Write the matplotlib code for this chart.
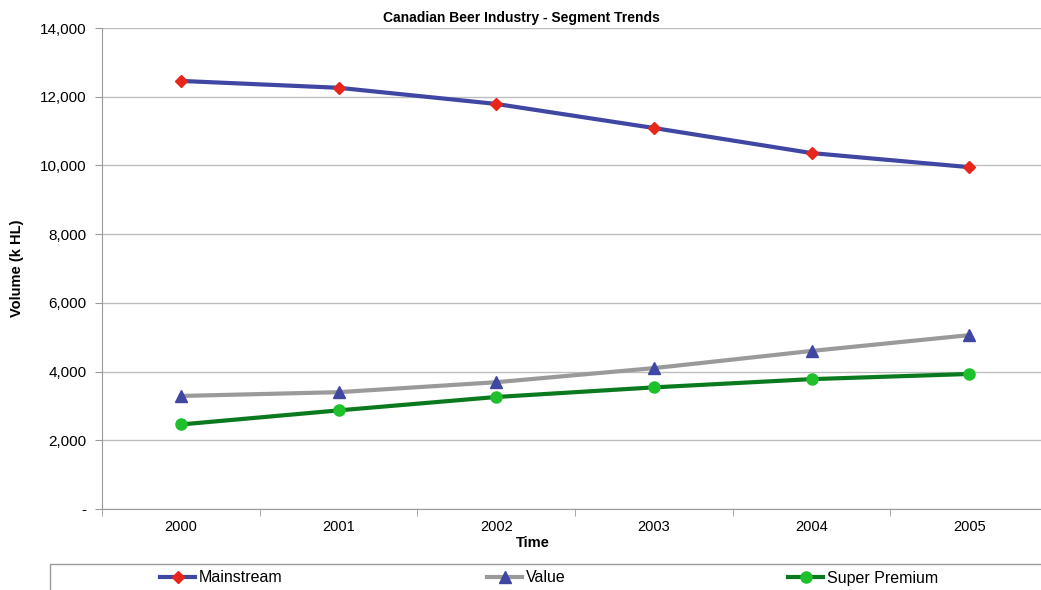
import matplotlib
matplotlib.use("Agg")
import matplotlib.pyplot as plt
from matplotlib.patches import Rectangle
from matplotlib.ticker import FuncFormatter, FixedLocator

years = ["2000", "2001", "2002", "2003", "2004", "2005"]
mainstream = [12460, 12260, 11790, 11090, 10360, 9950]
value = [3290, 3400, 3690, 4100, 4600, 5060]
super_premium = [2460, 2870, 3260, 3540, 3780, 3930]
yticks = [0, 2000, 4000, 6000, 8000, 10000, 12000, 14000]

plt.rcParams['font.family'] = ['Liberation Sans', 'DejaVu Sans']

W, H = 1041, 590
fig = plt.figure(figsize=(W / 100, H / 100), dpi=100)
x0, x1 = 102, 1048
y0, y1 = 509, 28
ax = fig.add_axes([x0 / W, 1 - y0 / H, (x1 - x0) / W, (y0 - y1) / H])

xs = list(range(len(years)))
l1, = ax.plot(xs, mainstream, color="#3F47A3", lw=3, marker="D", ms=6,
              mfc="#E8261B", mec="#E8261B", zorder=3)
l2, = ax.plot(xs, value, color="#9A9A9A", lw=3, marker="^", ms=9,
              mfc="#3F47A3", mec="#3F47A3", zorder=3)
l3, = ax.plot(xs, super_premium, color="#0B7A1F", lw=3, marker="o", ms=8,
              mfc="#1EC12C", mec="#1EC12C", zorder=4)

ax.set_xlim(-0.5, len(years) - 0.5)
ax.set_ylim(0, 14000)
ax.set_xticks(xs)
ax.set_xticklabels(years, fontsize=10.5)
ax.xaxis.set_minor_locator(FixedLocator([i - 0.5 for i in range(len(years) + 1)]))
ax.tick_params(axis="x", which="major", length=0, pad=8)
ax.tick_params(axis="x", which="minor", length=5, color="#9A9A9A", direction="out")
ax.set_yticks(yticks)
ax.yaxis.set_major_formatter(FuncFormatter(lambda v, p: "-" if v == 0 else f"{int(v):,}"))
ax.tick_params(axis="y", length=5, color="#9A9A9A", labelsize=11, pad=6)
ax.grid(axis="y", color="#BDBDBD", lw=1)
ax.set_axisbelow(True)
for s in ["top", "right"]:
    ax.spines[s].set_visible(False)
for s in ["left", "bottom"]:
    ax.spines[s].set_color("#9A9A9A")

ax.set_xlabel("Time", fontsize=10.5, fontweight="bold")
ax.xaxis.set_label_coords((533 - x0) / (x1 - x0), -(543 - y0) / (y0 - y1))
ax.set_ylabel("Volume (k HL)", fontsize=10.5, fontweight="bold")
ax.yaxis.set_label_coords((17 - x0) / (x1 - x0), (y0 - 268) / (y0 - y1))
ax.yaxis.label.set_va("center")
ax.xaxis.label.set_va("center")
fig.text(521 / W, 1 - 18 / H, "Canadian Beer Industry - Segment Trends",
         ha="center", va="center", fontsize=10, fontweight="bold")

# legend box
fig.patches.append(Rectangle((50 / W, -0.05), 1.0, (1 - 564 / H) + 0.05,
                             transform=fig.transFigure, fill=False,
                             ec="#9A9A9A", lw=1))
entries = [(l1, "Mainstream", 160), (l2, "Value", 487), (l3, "Super Premium", 788)]
for h, lab, px in entries:
    fig.legend([h], [lab], loc="center left",
               bbox_to_anchor=(px / W, 1 - 578 / H),
               frameon=False, fontsize=11.5, handlelength=2.2,
               handletextpad=0.25, borderpad=0, borderaxespad=0)

fig.savefig("out.png", dpi=100)
